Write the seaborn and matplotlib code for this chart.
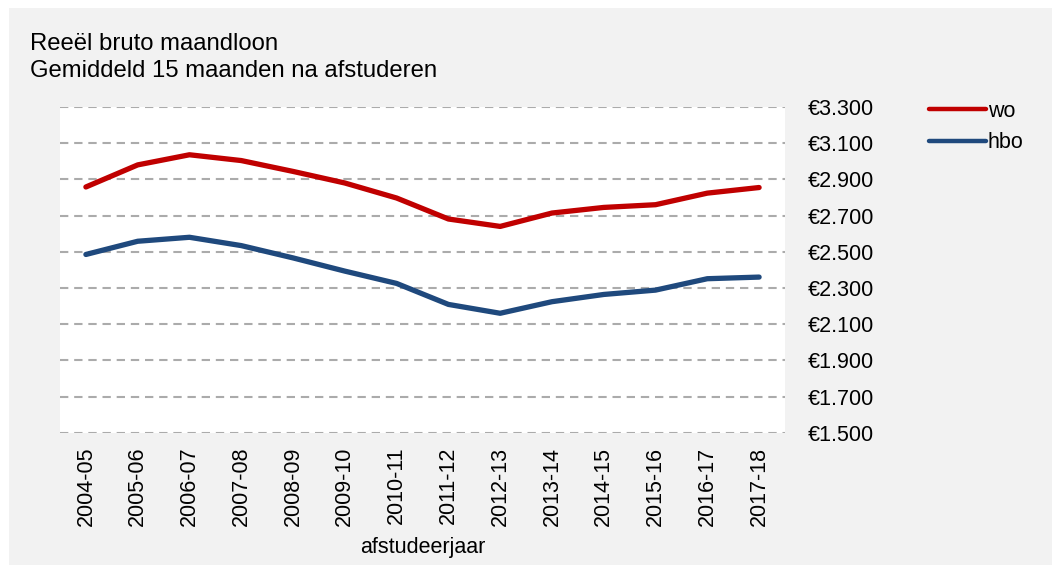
import matplotlib
matplotlib.use("Agg")
import matplotlib.pyplot as plt
import matplotlib.patches as patches
from matplotlib.ticker import FuncFormatter
import seaborn as sns
import pandas as pd

# data
jaren = ["2004-05", "2005-06", "2006-07", "2007-08", "2008-09", "2009-10", "2010-11",
         "2011-12", "2012-13", "2013-14", "2014-15", "2015-16", "2016-17", "2017-18"]
wo = [2858, 2980, 3036, 3004, 2944, 2880, 2797, 2681, 2640, 2714, 2745, 2760, 2824, 2855]
hbo = [2485, 2558, 2580, 2534, 2466, 2393, 2325, 2209, 2160, 2224, 2264, 2288, 2351, 2360]
y_ticks = [1500, 1700, 1900, 2100, 2300, 2500, 2700, 2900, 3100, 3300]

df = pd.DataFrame({
    "afstudeerjaar": jaren * 2,
    "loon": wo + hbo,
    "opleiding": ["wo"] * len(jaren) + ["hbo"] * len(jaren),
})

sns.set_style("white")
plt.rcParams["font.family"] = ["Liberation Sans", "DejaVu Sans"]
plt.rcParams["text.color"] = "black"
plt.rcParams["axes.labelcolor"] = "black"

W, H = 1059, 570
fig = plt.figure(figsize=(W / 100, H / 100), dpi=100)
fig.patch.set_facecolor("white")

# grey panel behind everything
fig.patches.append(patches.Rectangle((9 / W, 5 / H), (1052 - 9) / W, (562 - 5) / H,
                                     transform=fig.transFigure, facecolor="#F2F2F2",
                                     edgecolor="none", zorder=-10))

ax = fig.add_axes([60 / W, 1 - 432.7 / H, (785 - 60) / W, (432.7 - 107) / H])
ax.set_facecolor("white")

sns.lineplot(data=df, x="afstudeerjaar", y="loon", hue="opleiding",
             palette={"wo": "#C00000", "hbo": "#1F497D"}, linewidth=3.8,
             solid_capstyle="round", solid_joinstyle="round", ax=ax, legend=False)

ax.set_xlim(-0.5, len(jaren) - 0.5)
ax.set_ylim(y_ticks[0], y_ticks[-1])
ax.set_yticks(y_ticks)
ax.yaxis.tick_right()
ax.yaxis.set_major_formatter(FuncFormatter(lambda v, p: "€" + f"{int(v):,}".replace(",", ".")))
ax.tick_params(axis="y", length=0, pad=16.5, labelsize=15.5, labelcolor="black")
ax.tick_params(axis="x", length=0, pad=10, labelsize=15.5, labelrotation=90, labelcolor="black")
ax.grid(axis="y", color="#ABABAB", linewidth=1.5, linestyle=(0, (4.0, 2.8)))
ax.grid(axis="x", visible=False)
ax.set_axisbelow(True)
for s in ax.spines.values():
    s.set_visible(False)

ax.set_ylabel("")
ax.set_xlabel("afstudeerjaar", fontsize=15.5, labelpad=8)

# legend
handles = [plt.Line2D([], [], color="#C00000", linewidth=3.2, solid_capstyle="round"),
           plt.Line2D([], [], color="#1F497D", linewidth=3.2, solid_capstyle="round")]
fig.legend(handles, ["wo", "hbo"], loc="upper left", bbox_to_anchor=(920 / W, 1 - 92 / H),
           frameon=False, fontsize=15.5, handlelength=2.65, handletextpad=0.1,
           labelspacing=0.5, borderaxespad=0)

fig.text(30 / W, 1 - 50 / H, "Reeël bruto maandloon", fontsize=17.2, va="baseline", ha="left")
fig.text(30 / W, 1 - 77 / H, "Gemiddeld 15 maanden na afstuderen", fontsize=17.2,
         va="baseline", ha="left")

fig.savefig("out.png", dpi=100, facecolor=fig.get_facecolor())
